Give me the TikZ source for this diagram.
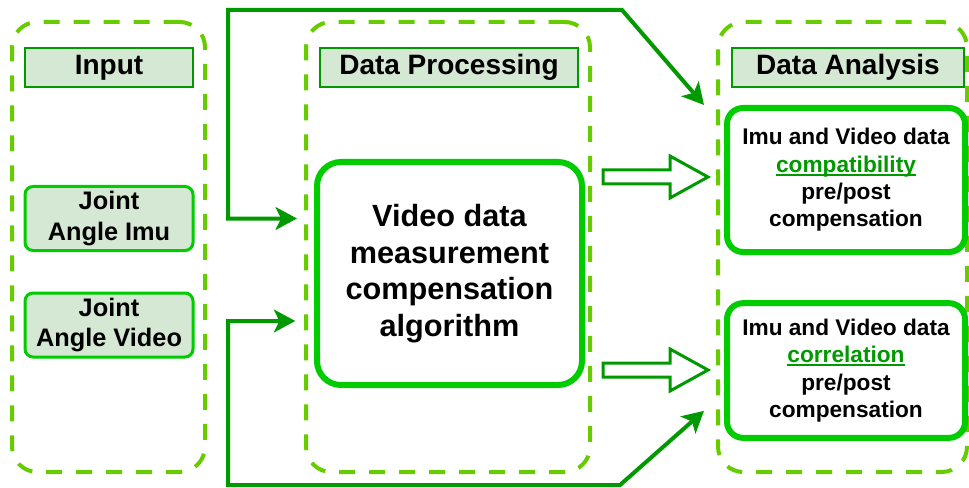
\documentclass[tikz,border=0pt]{standalone}
\usepackage{fontspec}
\setmainfont{Liberation Sans}
\usetikzlibrary{arrows.meta,shadows,fit}

\definecolor{zonegreen}{HTML}{66CC00}
\definecolor{boxgreen}{HTML}{00CC00}
\definecolor{darkgreen}{HTML}{009900}
\definecolor{headfill}{HTML}{D5E8D4}

% green underlined word
\newcommand{\greenul}[1]{{\color{darkgreen}\setbox0\hbox{#1}\rlap{\color{darkgreen}\rule[-2.6pt]{\wd0}{1.3pt}}\box0}}

\begin{document}
\begin{tikzpicture}[x=0.75pt,y=-0.75pt,
    zone/.style={draw=zonegreen,line width=3pt,dash pattern=on 12pt off 10.5pt,
      rounded corners=19pt,inner sep=0pt},
    header/.style={draw=darkgreen,line width=1.5pt,fill=headfill,minimum height=29.25pt,
      inner sep=0pt,font=\fontsize{21}{25}\selectfont\bfseries},
    inbox/.style={draw=boxgreen,line width=2.25pt,fill=headfill,rounded corners=6pt,
      minimum width=126pt,minimum height=48pt,inner sep=0pt,align=center,
      font=\fontsize{19}{23}\selectfont\bfseries,
      drop shadow={shadow xshift=1pt,shadow yshift=-1pt,opacity=0.2}},
    algbox/.style={draw=boxgreen,line width=4.5pt,fill=white,rounded corners=18pt,
      minimum width=198.75pt,minimum height=167.25pt,inner sep=0pt,align=center,
      font=\fontsize{23}{27.5}\selectfont\bfseries,
      drop shadow={shadow xshift=1.5pt,shadow yshift=-1.5pt,opacity=0.2}},
    resbox/.style={draw=boxgreen,line width=4.5pt,fill=white,rounded corners=12pt,
      minimum width=178.5pt,inner sep=0pt,align=center,
      font=\fontsize{17}{20.5}\selectfont\bfseries,
      drop shadow={shadow xshift=1.5pt,shadow yshift=-1.5pt,opacity=0.25}},
    feed/.style={draw=darkgreen,line width=3pt,
      arrows={Stealth[length=16pt,width=17pt,inset=4pt]-Stealth[length=16pt,width=17pt,inset=4pt]}},
    hollow/.style={draw=darkgreen,line width=2.25pt,fill=white}]
  \useasboundingbox (0,0) rectangle (969,488);

  % dashed stage frames
  \node[zone,fit={(12,22) (205,472)}] (inzone) {};
  \node[zone,fit={(306,22) (590,472)}] (dpzone) {};
  \node[zone,fit={(718,22) (967,472)}] (dazone) {};

  % stage titles
  \node[header,minimum width=126pt] (inhead) at (109,67.5) {Input};
  \node[header,minimum width=193.5pt] (dphead) at (449,67.5) {Data Processing};
  \node[header,minimum width=174pt] (dahead) at (848,67.5) {Data Analysis};

  % inputs
  \node[inbox] (imu) at (109,218.5) {Joint\\Angle Imu};
  \node[inbox] (video) at (109,325) {Joint\\Angle Video};

  % algorithm
  \node[algbox] (main) at (449.5,273.5) {Video data\\measurement\\compensation\\algorithm};

  % results
  \node[resbox,minimum height=108pt] (comp) at (846,180)
    {Imu and Video data\\\greenul{compatibility}\\pre/post\\compensation};
  \node[resbox,minimum height=101pt] (corr) at (846,370.5)
    {Imu and Video data\\\greenul{correlation}\\pre/post\\compensation};

  % feedback lines
  \coordinate (upL) at (228,10);
  \coordinate (upR) at (622,10);
  \coordinate (loL) at (228,485);
  \coordinate (loR) at (620,485);
  \draw[feed] ([xshift=-12.75pt]main.west |- imu.east) -| (upL) -- (upR)
    -- ([xshift=-15pt]comp.north west);
  \draw[feed] ([xshift=-14pt,yshift=3pt]main.west |- video.east) -| (loL) -- (loR)
    -- ([xshift=-15pt,yshift=22.5pt]corr.south west);

  % block arrows to the results
  \coordinate (b1) at (603,177);
  \coordinate (b2) at (603,370);
  \draw[hollow] (b1) ++(0,-7) -- ++(67,0) -- ++(0,-14) -- ++(38,21) -- ++(-38,21)
    -- ++(0,-14) -- ++(-67,0) -- cycle;
  \draw[hollow] (b2) ++(0,-7) -- ++(67,0) -- ++(0,-14) -- ++(38,21) -- ++(-38,21)
    -- ++(0,-14) -- ++(-67,0) -- cycle;
\end{tikzpicture}
\end{document}
